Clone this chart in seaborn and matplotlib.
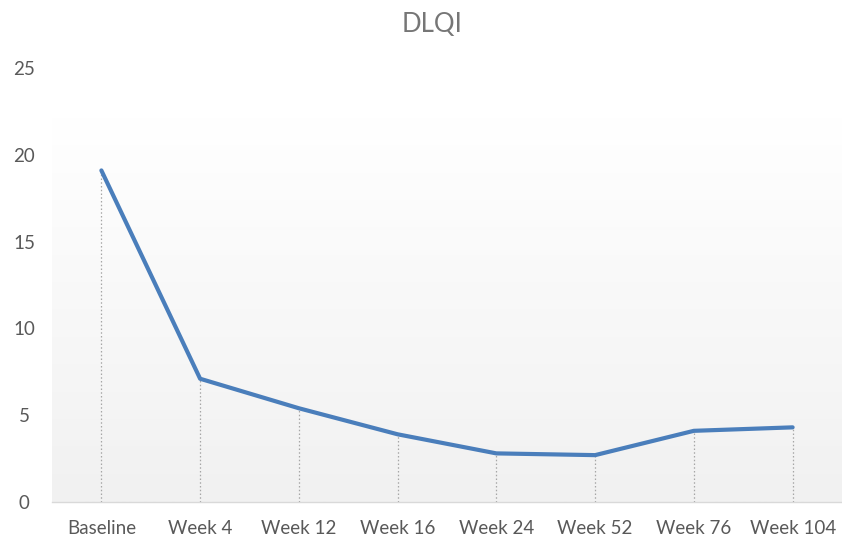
import numpy as np
import pandas as pd
import matplotlib
matplotlib.use("Agg")
import matplotlib.pyplot as plt
import seaborn as sns
from matplotlib.colors import LinearSegmentedColormap

categories = ["Baseline", "Week 4", "Week 12", "Week 16", "Week 24", "Week 52", "Week 76", "Week 104"]
dlqi = [19.1, 7.1, 5.4, 3.9, 2.8, 2.7, 4.1, 4.3]
y_ticks = [0, 5, 10, 15, 20, 25]

df = pd.DataFrame({"visit": categories, "DLQI": dlqi})
df["pos"] = np.arange(len(categories))

sns.set_theme(style="white")
plt.rcParams["font.family"] = ["Lato", "DejaVu Sans"]

W, H = 842, 541
fig = plt.figure(figsize=(W / 100, H / 100), dpi=100)
ax = fig.add_axes([52 / W, (H - 502) / H, (842 - 52) / W, (502 - 68) / H])

# gradient background (white at top -> light gray at bottom)
grad_top = (502 - 118) / (502 - 68)
grad = np.linspace(1.0, 0.0, 256).reshape(-1, 1)
cmap = LinearSegmentedColormap.from_list("g", ["#f1f1f1", "#ffffff"])
ax.imshow(grad, cmap=cmap, aspect="auto", extent=[0, 1, 0, grad_top],
          transform=ax.transAxes, zorder=0, vmin=0, vmax=1, origin="upper")

# drop lines
ax.vlines(df["pos"], 0, df["DLQI"], colors="#a6a6a6", linestyles=(0, (1.2, 1.8)),
          linewidth=0.9, zorder=1)

sns.lineplot(data=df, x="pos", y="DLQI", ax=ax, color="#4a7ebb", linewidth=3.0,
             zorder=3, sort=False)

ax.set_xlim(-0.5, len(categories) - 0.5)
ax.set_ylim(0, 25)
ax.set_yticks(y_ticks)
ax.set_xticks(df["pos"])
ax.set_xticklabels(categories)
ax.set_xlabel("")
ax.set_ylabel("")
ax.tick_params(axis="both", length=0, labelsize=13.5, colors="#595959")
ax.tick_params(axis="y", pad=20)
ax.tick_params(axis="x", pad=13)
for lab in ax.get_yticklabels():
    lab.set_horizontalalignment("center")
for s in ["top", "right", "left"]:
    ax.spines[s].set_visible(False)
ax.spines["bottom"].set_color("#d9d9d9")
ax.spines["bottom"].set_linewidth(1.0)
ax.set_facecolor("none")

fig.text(432 / W, 1 - 24 / H, "DLQI", ha="center", va="center", fontsize=18.5, color="#767676")

fig.savefig("out.png", dpi=100, facecolor="white")
